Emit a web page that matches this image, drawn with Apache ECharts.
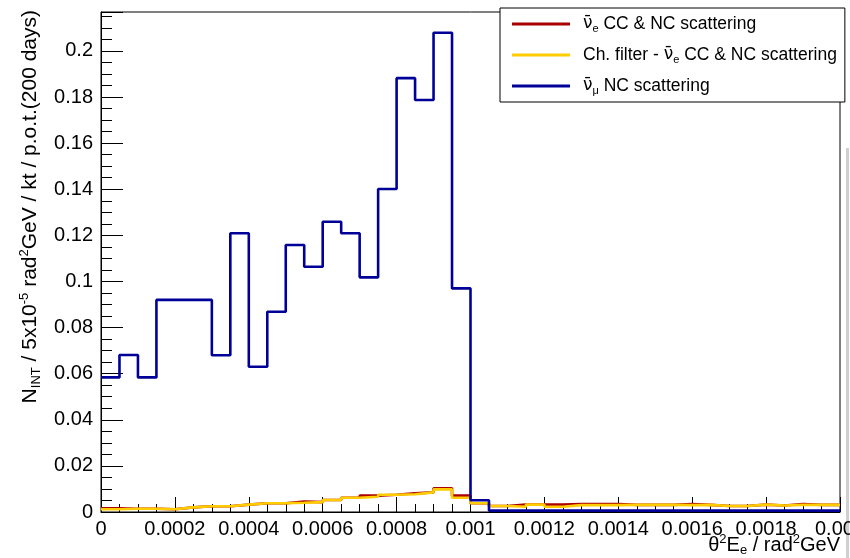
<!DOCTYPE html>
<html>
<head>
<meta charset="utf-8">
<script src="https://cdn.jsdelivr.net/npm/echarts@6/dist/echarts.min.js"></script>
<style>
  html, body { margin: 0; padding: 0; background: #fff; }
  #chart { width: 850px; height: 558px; }
</style>
</head>
<body>
<div id="chart"></div>
<script>
// Histogram binning: 40 bins of theta^2 * E_e from 0 to 0.002 rad^2 GeV
const binWidth = 0.00005;
const xMin = 0;
const xMax = 0.002;

// Bin contents (one value per bin)
const antiNueCCNC = [
  0.0016, 0.0014, 0.0014, 0.0012, 0.0020, 0.0025, 0.0025, 0.0032, 0.0038, 0.0038,
  0.0045, 0.0043, 0.0052, 0.0062, 0.0071, 0.0075, 0.0081, 0.0085, 0.0103, 0.0071,
  0.0038, 0.0026, 0.0032, 0.0032, 0.0032, 0.0035, 0.0035, 0.0035, 0.0031, 0.0031,
  0.0031, 0.0035, 0.0031, 0.0026, 0.0026, 0.0032, 0.0028, 0.0035, 0.0031, 0.0031
];
const filteredAntiNueCCNC = [
  0.0012, 0.0014, 0.0014, 0.0012, 0.0020, 0.0025, 0.0025, 0.0032, 0.0038, 0.0038,
  0.0040, 0.0043, 0.0052, 0.0062, 0.0066, 0.0075, 0.0077, 0.0085, 0.0098, 0.0062,
  0.0038, 0.0026, 0.0023, 0.0032, 0.0023, 0.0030, 0.0030, 0.0030, 0.0031, 0.0031,
  0.0031, 0.0030, 0.0031, 0.0026, 0.0026, 0.0032, 0.0028, 0.0031, 0.0031, 0.0031
];
const antiNumuNC = [
  0.0584, 0.0681, 0.0584, 0.0920, 0.0920, 0.0920, 0.0680, 0.1209, 0.0630, 0.0869,
  0.1158, 0.1064, 0.1259, 0.1209, 0.1018, 0.1401, 0.1882, 0.1787, 0.2079, 0.0970,
  0.0051, 0.0006, 0.0006, 0.0006, 0.0006, 0.0006, 0.0006, 0.0006, 0.0006, 0.0006,
  0.0006, 0.0006, 0.0006, 0.0006, 0.0006, 0.0006, 0.0006, 0.0006, 0.0006, 0.0006
];

const seriesNames = ['nue', 'nueFiltered', 'numu'];
const seriesColors = ['#aa0000', '#ffcc00', '#000099'];
const legendLabels = {
  nue: '{nu0|\u03bd\u0304}{sub|e}{t| CC & NC scattering}',
  nueFiltered: '{a|Ch. filter - }{nu|\u03bd\u0304}{sub|e}{t| CC & NC scattering}',
  numu: '{nu0|\u03bd\u0304}{sub|\u03bc}{t| NC scattering}'
};

// y range: 0 .. 1.05 * maximum bin
const yMax = 0.2169;

// Turn bin contents into step points (low edge of each bin + closing edge)
function stepPoints(values) {
  const pts = values.map((v, i) => [xMin + i * binWidth, v]);
  pts.push([xMin + values.length * binWidth, values[values.length - 1]]);
  return pts;
}

const FONT = 'Liberation Sans';
const GREEK = 'DejaVu Sans';

const chart = echarts.init(document.getElementById('chart'), null, { renderer: 'canvas' });

const datasets = [antiNueCCNC, filteredAntiNueCCNC, antiNumuNC];

chart.setOption({
  animation: false,
  backgroundColor: '#fff',
  grid: {
    left: 101, right: 10, top: 12, bottom: 46,
    containLabel: false,
    outerBoundsMode: 'none',
    show: true, borderColor: '#000', borderWidth: 1, backgroundColor: '#fff'
  },
  xAxis: {
    type: 'value',
    min: xMin, max: xMax, interval: 0.0002,
    axisLine: { show: true, lineStyle: { color: '#000', width: 1 } },
    axisTick: { show: true, inside: true, length: 15, lineStyle: { color: '#000' } },
    minorTick: { show: true, splitNumber: 4, length: 8, lineStyle: { color: '#000' } },
    splitLine: { show: false },
    axisLabel: {
      margin: 7, color: '#000', fontFamily: FONT, fontSize: 20,
      hideOverlap: false,
      formatter: v => String(+v.toPrecision(6))
    }
  },
  yAxis: {
    type: 'value',
    min: 0, max: yMax, interval: 0.02,
    axisLine: { show: true, lineStyle: { color: '#000', width: 1 } },
    axisTick: { show: true, inside: true, length: 22, lineStyle: { color: '#000' } },
    minorTick: { show: true, splitNumber: 4, length: 11, lineStyle: { color: '#000' } },
    splitLine: { show: false },
    axisLabel: {
      margin: 8, color: '#000', fontFamily: FONT, fontSize: 20, showMaxLabel: false,
      formatter: v => String(+v.toPrecision(6))
    }
  },
  legend: {
    orient: 'vertical',
    left: 500, top: 8,
    padding: [6, 8, 6, 12],
    itemGap: 11,
    itemWidth: 58, itemHeight: 3,
    icon: 'rect',
    backgroundColor: '#fff',
    borderColor: '#000', borderWidth: 1,
    data: seriesNames,
    formatter: name => legendLabels[name],
    textStyle: {
      fontFamily: FONT, fontSize: 17.5, color: '#000', lineHeight: 20,
      rich: {
        a: { fontFamily: FONT, fontSize: 17.5, lineHeight: 20, padding: [0, 0, 0, 8] },
        nu0: { fontFamily: GREEK, fontSize: 17, lineHeight: 20, padding: [0, 0, 0, 8] },
        nu: { fontFamily: GREEK, fontSize: 17, lineHeight: 20 },
        t: { fontFamily: FONT, fontSize: 17.5, lineHeight: 20 },
        sub: { fontFamily: FONT, fontSize: 11, lineHeight: 11, verticalAlign: 'bottom' }
      }
    }
  },
  series: datasets.map((vals, k) => ({
    name: seriesNames[k],
    type: 'line',
    step: 'end',
    symbol: 'none',
    clip: true,
    data: stepPoints(vals),
    color: seriesColors[k],
    lineStyle: { color: seriesColors[k], width: 2.6 },
    z: 3 + k
  })),
  graphic: [
    {
      type: 'text',
      x: 30, y: 10,
      rotation: Math.PI / 2,
      style: {
        text: '{t|N}{sub|INT}{t| / 5x10}{sup|-5}{t| rad}{sup|2}{t|GeV / kt / p.o.t.(200 days)}',
        align: 'right', verticalAlign: 'middle',
        fill: '#000',
        rich: {
          t: { fontFamily: FONT, fontSize: 21, lineHeight: 25 },
          sub: { fontFamily: FONT, fontSize: 13, lineHeight: 13, verticalAlign: 'bottom' },
          sup: { fontFamily: FONT, fontSize: 13, lineHeight: 13, verticalAlign: 'top' }
        }
      }
    },
    {
      type: 'text',
      x: 840, y: 545,
      style: {
        text: '{t|\u03b8}{sup|2}{t|E}{sub|e}{t| / rad}{sup|2}{t|GeV}',
        align: 'right', verticalAlign: 'middle',
        fill: '#000',
        rich: {
          t: { fontFamily: FONT, fontSize: 20, lineHeight: 24 },
          sub: { fontFamily: FONT, fontSize: 13, lineHeight: 13, verticalAlign: 'bottom' },
          sup: { fontFamily: FONT, fontSize: 13, lineHeight: 13, verticalAlign: 'top' }
        }
      }
    },
    {
      type: 'rect',
      shape: { x: 846, y: 148, width: 3, height: 410 },
      style: { fill: '#d0d0d0' },
      silent: true
    }
  ]
});
</script>
</body>
</html>
